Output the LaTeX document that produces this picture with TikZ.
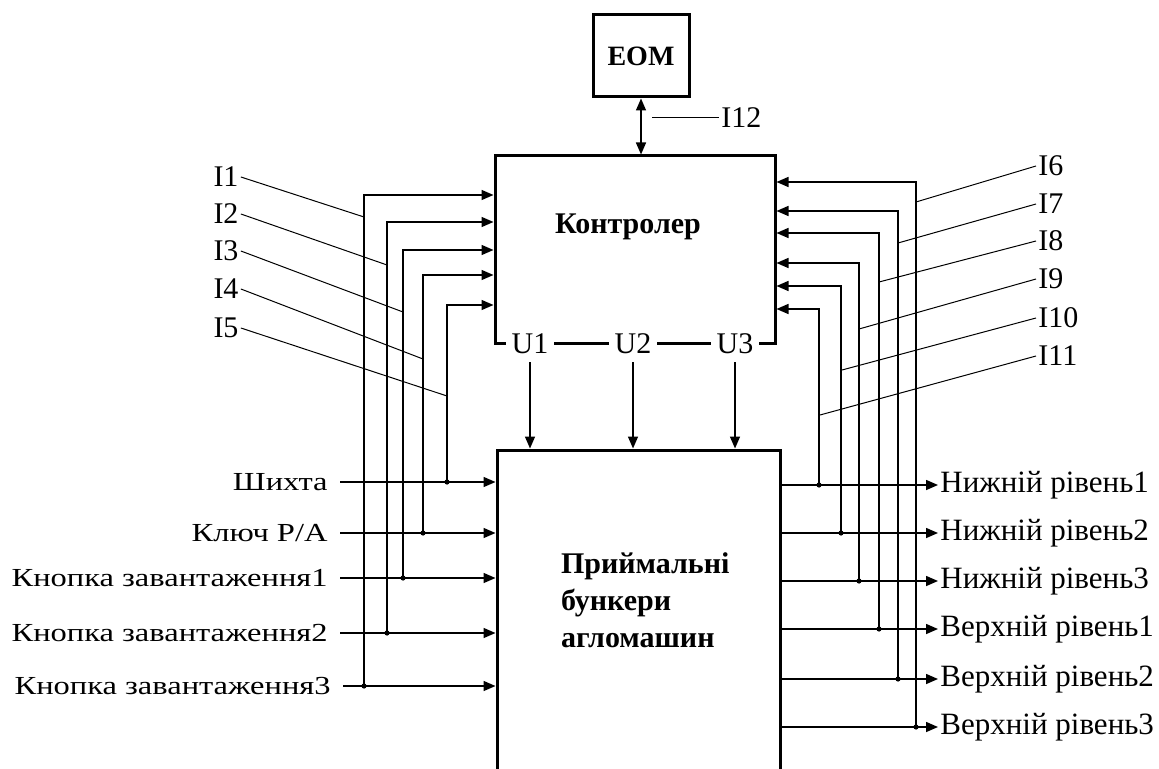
\documentclass[tikz,border=0pt]{standalone}
\usepackage{fontspec}
\setmainfont{Liberation Serif}
\newfontfamily\widefont[FakeStretch=1.25]{Liberation Serif}
\usetikzlibrary{arrows.meta, positioning}

\begin{document}
\begin{tikzpicture}[
    x=0.5pt, y=-0.5pt,
    box/.style={rectangle, draw, line width=1.5pt, inner sep=0pt},
    boldtext/.style={font=\fontsize{15}{18.5}\selectfont\bfseries},
    inlabel/.style={anchor=east, inner sep=6pt, font=\widefont\fontsize{13}{15}\selectfont},
    outlabel/.style={anchor=west, inner sep=1pt, font=\fontsize{15.5}{18}\selectfont},
    ilabel/.style={inner sep=1pt, font=\fontsize{15}{18}\selectfont},
    ulabel/.style={fill=white, inner xsep=3pt, inner ysep=1pt, font=\fontsize{15}{18}\selectfont},
    sig/.style={line width=0.75pt, -{Triangle[length=6pt,width=5pt]}},
    lead/.style={line width=0.5pt},
    dot/.style={circle, fill, inner sep=0pt, minimum size=2.6pt}
  ]
  \useasboundingbox (0,0) rectangle (1159,769);
  \clip (0,0) rectangle (1159,769);

  % blocks
  \node (eom) [box, minimum width=48pt, minimum height=41pt, font=\fontsize{14}{16}\selectfont\bfseries] at (641,56) {EOM};
  \node (ctrl) [box, minimum width=140pt, minimum height=94pt] at (635,250) {};
  \node (ctrltxt) [boldtext] at (628,227) {Контролер};
  \node (bunk) [box, minimum width=141.5pt, minimum height=175pt] at (638.5,625) {};
  \node (bunktxt) [boldtext, align=left, anchor=west] at (554,600) {Приймальні\\бункери\\агломашин};

  \node (u1) [ulabel] at (530,344) {U1};
  \node (u2) [ulabel] at (633,344) {U2};
  \node (u3) [ulabel] at (735,344) {U3};
  \foreach \u in {u1,u2,u3}
    \draw [sig, shorten <=3pt] (\u.south) -- (\u.south |- bunk.north);

  \draw [line width=0.75pt, {Triangle[length=6pt,width=5pt]}-{Triangle[length=6pt,width=5pt]}] (eom.south) -- (eom.south |- ctrl.north);
  \node (i12) [ilabel, anchor=west] at (719,118) {I12};
  \coordinate (i12e) at (652,118);
  \draw [lead] (i12e) -- (i12.west);

  % inputs on the left
  \node (shihta) [inlabel] at (340,482) {Шихта};
  \node (kluch) [inlabel] at (340,533) {Ключ Р/А};
  \node (knop1) [inlabel] at (340,578) {Кнопка завантаження1};
  \node (knop2) [inlabel] at (340,633) {Кнопка завантаження2};
  \node (knop3) [inlabel] at (343,686) {Кнопка завантаження3};

  \coordinate (c1) at (364,195);
  \coordinate (c2) at (387,222);
  \coordinate (c3) at (403,250);
  \coordinate (c4) at (423,275);
  \coordinate (c5) at (447,305);

  \foreach \src/\col in {knop3/c1, knop2/c2, knop1/c3, kluch/c4, shihta/c5} {
    \draw [sig] (\src) -- (\src -| bunk.west);
    \draw [sig] (\col |- \src) -- (\col) -- (\col -| ctrl.west);
    \node (d\col) [dot] at (\col |- \src) {};
  }

  \node (i1) [ilabel] at (226,177) {I1};
  \node (i2) [ilabel] at (226,214) {I2};
  \node (i3) [ilabel] at (226,251) {I3};
  \node (i4) [ilabel] at (226,289) {I4};
  \node (i5) [ilabel] at (226,328) {I5};
  \coordinate (e1) at (364,217);
  \coordinate (e2) at (387,265);
  \coordinate (e3) at (403,312);
  \coordinate (e4) at (423,359);
  \coordinate (e5) at (447,396);
  \foreach \n in {1,...,5}
    \draw [lead] (i\n.east) -- (e\n);

  % outputs on the right
  \node (low1) [outlabel] at (938,485) {Нижній рівень1};
  \node (low2) [outlabel] at (938,533) {Нижній рівень2};
  \node (low3) [outlabel] at (938,581) {Нижній рівень3};
  \node (up1) [outlabel] at (938,629) {Верхній рівень1};
  \node (up2) [outlabel] at (938,679) {Верхній рівень2};
  \node (up3) [outlabel] at (938,727) {Верхній рівень3};

  \coordinate (r1) at (819,309);
  \coordinate (r2) at (841,286);
  \coordinate (r3) at (859,263);
  \coordinate (r4) at (879,233);
  \coordinate (r5) at (898,211);
  \coordinate (r6) at (916,182);

  \foreach \dst/\col in {low1/r1, low2/r2, low3/r3, up1/r4, up2/r5, up3/r6} {
    \draw [sig] (\dst -| bunk.east) -- (\dst);
    \draw [sig] (\col |- \dst) -- (\col) -- (\col -| ctrl.east);
    \node (d\col) [dot] at (\col |- \dst) {};
  }

  \node (i6) [ilabel, anchor=west] at (1036,166) {I6};
  \node (i7) [ilabel, anchor=west] at (1036,204) {I7};
  \node (i8) [ilabel, anchor=west] at (1036,241) {I8};
  \node (i9) [ilabel, anchor=west] at (1036,279) {I9};
  \node (i10) [ilabel, anchor=west] at (1036,318) {I10};
  \node (i11) [ilabel, anchor=west] at (1036,356) {I11};
  \coordinate (e6) at (916,202);
  \coordinate (e7) at (898,243);
  \coordinate (e8) at (879,282);
  \coordinate (e9) at (859,329);
  \coordinate (e10) at (842,370);
  \coordinate (e11) at (820,415);
  \foreach \n in {6,...,11}
    \draw [lead] (i\n.west) -- (e\n);
\end{tikzpicture}
\end{document}
